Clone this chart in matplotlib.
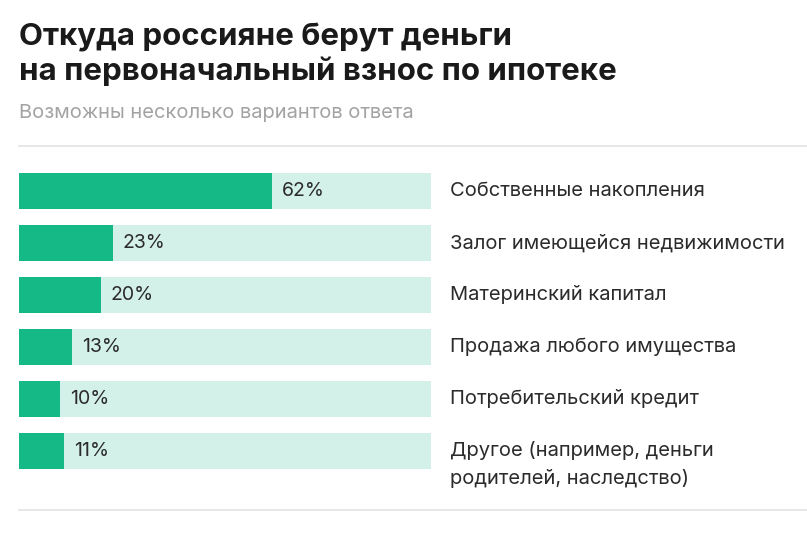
import matplotlib
matplotlib.use('Agg')
import matplotlib.pyplot as plt
from matplotlib.transforms import blended_transform_factory
from matplotlib.lines import Line2D

plt.rcParams['font.family'] = ['Inter', 'DejaVu Sans']

categories = [
    'Собственные накопления',
    'Залог имеющейся недвижимости',
    'Материнский капитал',
    'Продажа любого имущества',
    'Потребительский кредит',
    'Другое (например, деньги\nродителей, наследство)',
]
values = [62, 23, 20, 13, 10, 11]
value_labels = [f'{v}%' for v in values]
FULL = 101

GREEN = '#14b986'
MINT = '#d4f1e9'
TEXT = '#2b2b2b'

W, H = 807, 534
fig = plt.figure(figsize=(W / 100, H / 100), dpi=100)
fig.patch.set_facecolor('white')

# axes placed in pixel coordinates of the reference
left, right, top, bottom = 19, 431, 165, 477
ax = fig.add_axes([left / W, 1 - bottom / H, (right - left) / W, (bottom - top) / H])

y = list(range(len(categories)))
ax.barh(y, [FULL] * len(values), height=0.69, color=MINT, linewidth=0)
ax.barh(y, values, height=0.69, color=GREEN, linewidth=0)
ax.set_xlim(0, FULL)
ax.set_ylim(len(categories) - 0.5, -0.5)
ax.axis('off')

for i, (v, lab) in enumerate(zip(values, value_labels)):
    ax.text(v + 2.4, i, lab, va='center', ha='left', fontsize=14, color=TEXT)

tr = blended_transform_factory(fig.transFigure, ax.transData)
row_px = (bottom - top) / len(categories)
for i, cat in enumerate(categories):
    for k, line in enumerate(cat.split('\n')):
        ax.text(450 / W, i + k * 28 / row_px, line, transform=tr, va='center', ha='left',
                fontsize=14.5, color=TEXT)

fig.text(19 / W, 1 - 37 / H, 'Откуда россияне берут деньги', fontsize=22.5,
         fontweight='bold', color='#1a1a1a', va='center', ha='left')
fig.text(19 / W, 1 - 71 / H, 'на первоначальный взнос по ипотеке', fontsize=22.5,
         fontweight='bold', color='#1a1a1a', va='center', ha='left')
fig.text(19 / W, 1 - 113 / H, 'Возможны несколько вариантов ответа', fontsize=14.5,
         color='#a3a3a3', va='center', ha='left')

for yy in (146, 510):
    fig.add_artist(Line2D([19 / W, 1], [1 - yy / H, 1 - yy / H], color='#e3e3e3', linewidth=1.2))

fig.savefig('out.png', dpi=100)
